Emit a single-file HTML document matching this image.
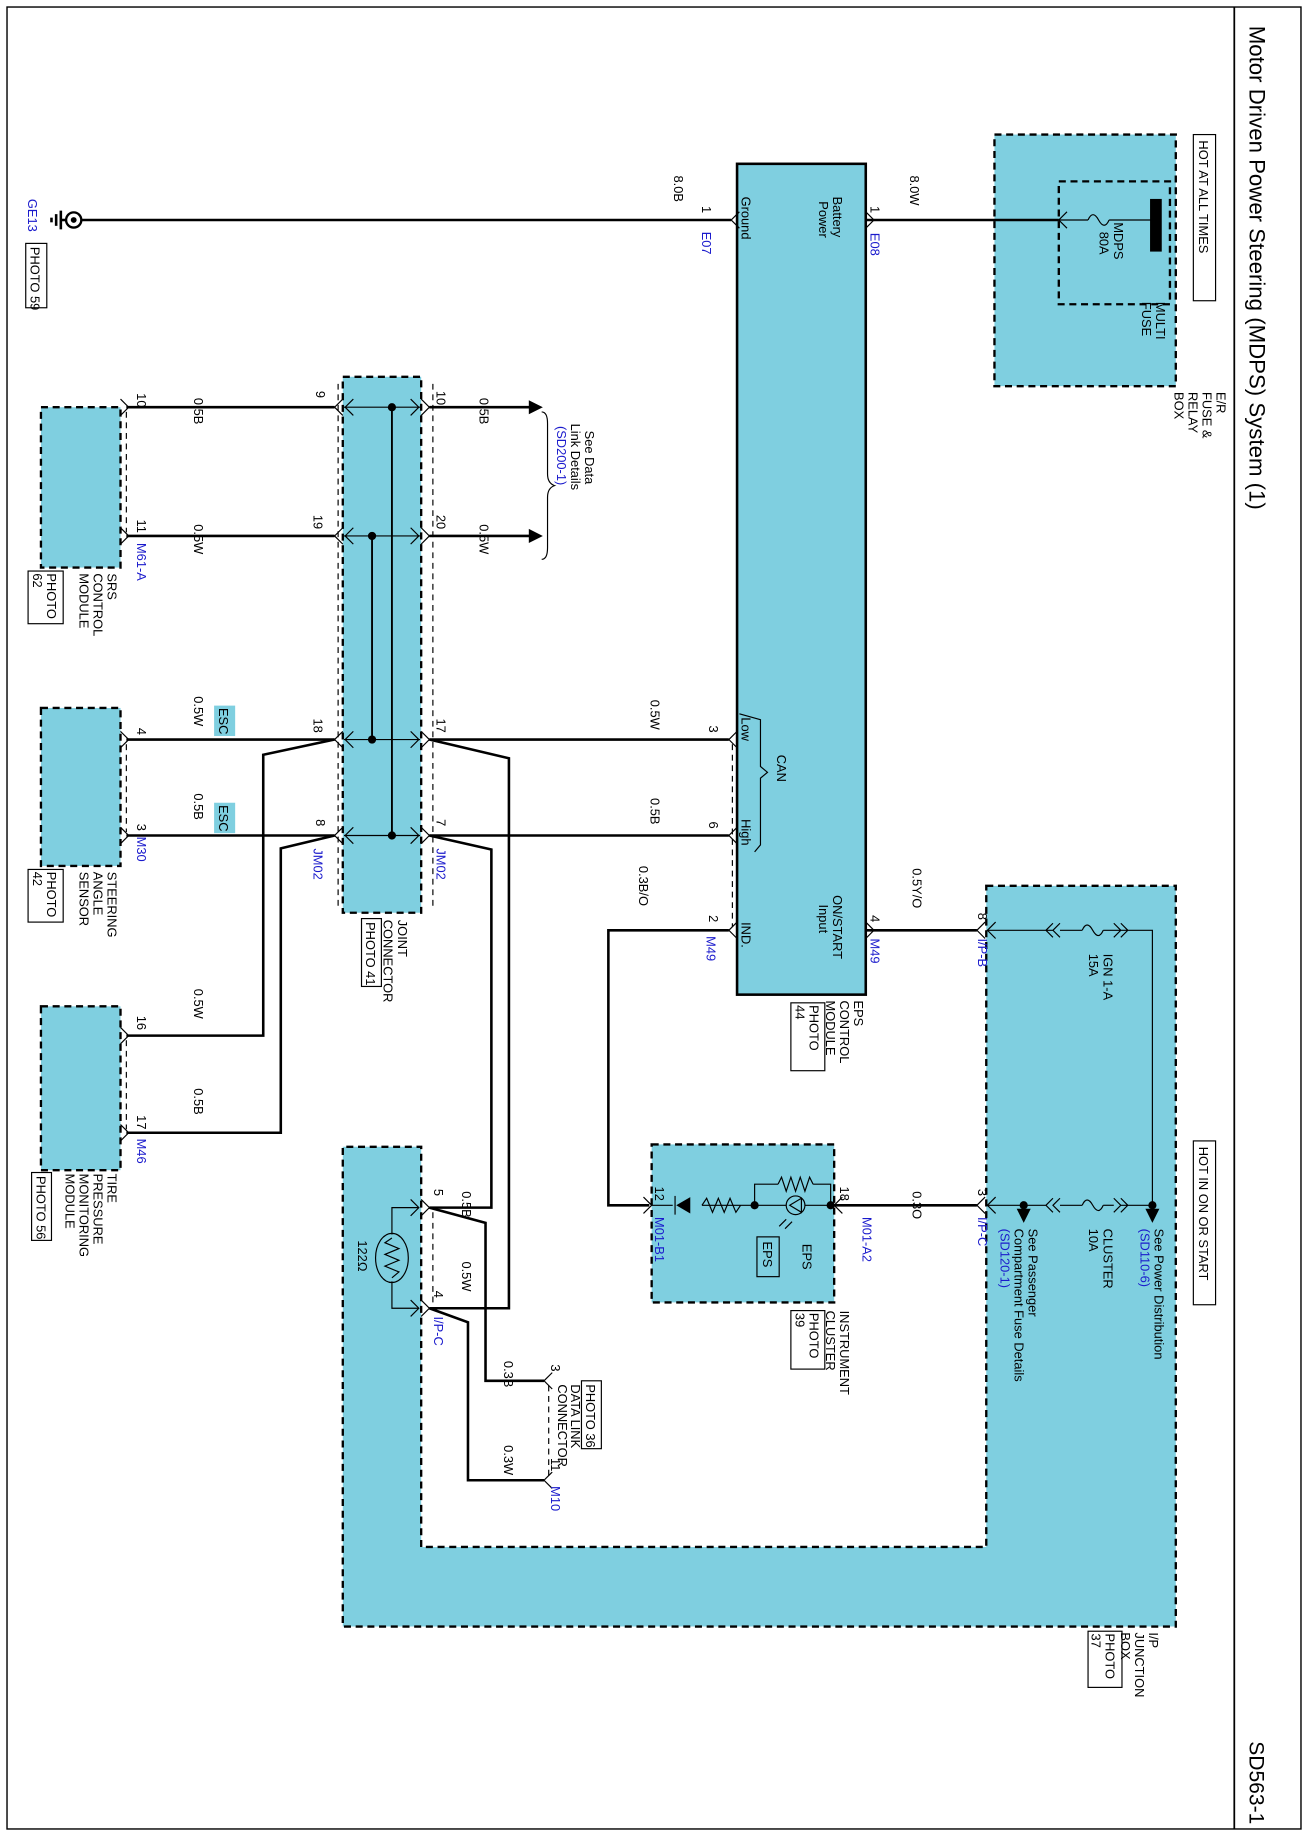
<!DOCTYPE html>
<html><head><meta charset="utf-8"><style>
html,body{margin:0;padding:0;background:#fff}
svg{display:block}
text{font-family:"Liberation Sans",sans-serif;font-size:11px;fill:#000}
.b{fill:#1a1acc}
.w{stroke:#000;stroke-width:2.2;fill:none}
.t{stroke:#000;stroke-width:1;fill:none}
.d{stroke:#000;stroke-width:1;fill:none;stroke-dasharray:5,4}
.box{fill:#7fcfe0;stroke:#000;stroke-width:2;stroke-dasharray:6,4}
</style></head><body>
<svg width="1308" height="1836" viewBox="0 0 1118 1569" preserveAspectRatio="none" xmlns="http://www.w3.org/2000/svg">
<rect x="6" y="6" width="1106" height="1557" fill="none" stroke="#000" stroke-width="1.2"/>
<line x1="1055" y1="6" x2="1055" y2="1563" stroke="#000" stroke-width="1.5"/>
<text style="font-size:19px" transform="translate(1068,22)rotate(90)">Motor Driven Power Steering (MDPS) System (1)</text>
<text style="font-size:18px" transform="translate(1068,1488)rotate(90)">SD563-1</text>

<!-- boxes -->
<rect x="630" y="140" width="110" height="710" fill="#7fcfe0" stroke="#000" stroke-width="2.2"/>
<rect class="box" x="850" y="115" width="155" height="215"/>
<rect x="905" y="155" width="95" height="105" fill="none" stroke="#000" stroke-width="2" stroke-dasharray="6,4"/>
<rect class="box" x="293" y="322" width="67" height="458"/>
<rect class="box" x="35" y="348" width="68" height="137"/>
<rect class="box" x="35" y="605" width="68" height="135"/>
<rect class="box" x="35" y="860" width="68" height="140"/>
<rect class="box" x="557" y="978" width="156" height="135"/>
<path class="box" d="M843,757 L1005,757 L1005,1390 L293,1390 L293,980 L360,980 L360,1322 L843,1322 Z"/>

<!-- ground -->
<line class="w" x1="70" y1="188" x2="625" y2="188"/>
<circle cx="63" cy="188" r="6.5" fill="#fff" stroke="#000" stroke-width="2"/>
<circle cx="63" cy="188" r="2.5" fill="#000"/>
<line class="w" x1="56" y1="188" x2="52" y2="188"/>
<line class="w" x1="52" y1="180" x2="52" y2="196"/>
<line class="w" x1="48" y1="183" x2="48" y2="193"/>
<line class="w" x1="44" y1="186" x2="44" y2="190"/>
<path class="t" d="M632,181 L625,188 L632,195"/>

<!-- battery -->
<line class="w" x1="740" y1="188" x2="905" y2="188"/>
<path class="t" d="M740,181 L747,188 L740,195"/>
<path class="t" d="M912,181 L905,188 L912,195"/>
<line class="t" x1="905" y1="188" x2="930" y2="188"/>
<path class="t" d="M930,188 q4,-9 9,0 t9,0"/>
<line class="t" x1="948" y1="188" x2="985" y2="188"/>
<rect x="983" y="170" width="10" height="45" fill="#000"/>

<!-- joint connector wires -->
<line class="w" x1="108" y1="348" x2="286" y2="348"/>
<line class="w" x1="108" y1="458" x2="286" y2="458"/>
<line class="w" x1="108" y1="632" x2="286" y2="632"/>
<line class="w" x1="108" y1="714" x2="286" y2="714"/>
<line class="w" x1="367" y1="348" x2="455" y2="348"/>
<line class="w" x1="367" y1="458" x2="455" y2="458"/>
<path d="M452,342 L464,348 L452,354Z M452,452 L464,458 L452,464Z" fill="#000"/>
<line class="w" x1="367" y1="632" x2="623" y2="632"/>
<line class="w" x1="367" y1="714" x2="623" y2="714"/>
<g class="t">
<line x1="294" y1="348" x2="359" y2="348"/><line x1="294" y1="458" x2="359" y2="458"/>
<line x1="294" y1="632" x2="359" y2="632"/><line x1="294" y1="714" x2="359" y2="714"/>
</g>
<line stroke="#000" stroke-width="1.6" x1="318" y1="458" x2="318" y2="632"/>
<line stroke="#000" stroke-width="1.6" x1="335" y1="348" x2="335" y2="714"/>
<circle cx="335" cy="348" r="3.5"/><circle cx="318" cy="458" r="3.5"/><circle cx="318" cy="632" r="3.5"/><circle cx="335" cy="714" r="3.5"/>
<g class="t">
<path d="M293,341 L286,348 L293,355 M302,341 L295,348 L302,355"/>
<path d="M293,451 L286,458 L293,465 M302,451 L295,458 L302,465"/>
<path d="M293,625 L286,632 L293,639 M302,625 L295,632 L302,639"/>
<path d="M293,707 L286,714 L293,721 M302,707 L295,714 L302,721"/>
<path d="M360,341 L367,348 L360,355 M351,341 L358,348 L351,355"/>
<path d="M360,451 L367,458 L360,465 M351,451 L358,458 L351,465"/>
<path d="M360,625 L367,632 L360,639 M351,625 L358,632 L351,639"/>
<path d="M360,707 L367,714 L360,721 M351,707 L358,714 L351,721"/>
<path d="M103,341 L110,348 L103,355 M103,451 L110,458 L103,465"/>
<path d="M103,625 L110,632 L103,639 M103,707 L110,714 L103,721"/>
<path d="M103,878 L110,885 L103,892 M103,961 L110,968 L103,975"/>
<path d="M630,625 L623,632 L630,639 M630,707 L623,714 L630,721 M630,788 L623,795 L630,802"/>
</g>
<line class="d" x1="289" y1="328" x2="289" y2="775"/>
<line class="d" x1="370" y1="328" x2="370" y2="775"/>
<line class="d" x1="108" y1="352" x2="108" y2="455"/>
<line class="d" x1="108" y1="636" x2="108" y2="711"/>
<line class="d" x1="108" y1="889" x2="108" y2="965"/>
<line class="d" x1="626" y1="636" x2="626" y2="792"/>
<!-- brace -->
<path class="t" d="M463,352 Q468,352 468,362 L468,405 Q468,413 474,415 Q468,417 468,425 L468,468 Q468,478 463,478"/>

<!-- TPMS wires -->
<path class="w" d="M108,885 L225,885 L225,645 L286,632"/>
<path class="w" d="M108,968 L240,968 L240,725 L286,714"/>
<!-- right side crossing wires -->
<path class="w" d="M367,632 L435,648 L435,1118 L367,1118"/>
<path class="w" d="M367,714 L420,726 L420,1032 L367,1032"/>
<path class="w" d="M367,1032 L415,1045 L415,1180 L465,1180"/>
<path class="w" d="M367,1118 L400,1130 L400,1265 L465,1265"/>
<g class="t">
<path d="M360,1025 L367,1032 L360,1039 M351,1025 L358,1032 L351,1039"/>
<path d="M360,1111 L367,1118 L360,1125 M351,1111 L358,1118 L351,1125"/>
<path d="M472,1173 L465,1180 L472,1187 M472,1258 L465,1265 L472,1272"/>
</g>
<line class="d" x1="370" y1="1036" x2="370" y2="1114"/>
<line class="d" x1="469" y1="1184" x2="469" y2="1261"/>
<!-- resistor 122 -->
<path class="t" d="M358,1032 L335,1032 L335,1055 M335,1095 L335,1118 L358,1118"/>
<ellipse cx="335" cy="1075" rx="14" ry="21" fill="none" stroke="#000" stroke-width="1"/>
<path class="t" d="M335,1058 L329,1062 L341,1067 L329,1072 L341,1077 L329,1082 L341,1087 L335,1092"/>

<!-- CAN bracket -->
<path class="t" d="M632,610 L650,615 L650,655 L656,660 L650,665 L650,722 L645,728"/>

<!-- IND / ON START -->
<path class="w" d="M623,795 L520,795 L520,1030 L555,1030"/>
<line class="w" x1="740" y1="795" x2="835" y2="795"/>
<path class="t" d="M740,788 L747,795 L740,802"/>
<path class="t" d="M842,788 L835,795 L842,802 M851,788 L844,795 L851,802"/>
<path class="t" d="M844,795 L900,795 M900,789 L894,795 L900,801 M906,789 L900,795 L906,801 M906,795 L925,795"/>
<path class="t" d="M925,795 q4,-9 9,0 t9,0"/>
<path class="t" d="M943,795 L958,795 M952,789 L958,795 L952,801 M958,789 L964,795 L958,801 M958,795 L985,795 L985,1035"/>
<path d="M979,1033 L985,1045 L991,1033Z M869,1033 L875,1045 L881,1033Z"/>
<path class="t" d="M985,1030 L958,1030 M952,1024 L958,1030 L952,1036 M958,1024 L964,1030 L958,1036"/>
<path class="t" d="M952,1030 L943,1030"/>
<path class="t" d="M925,1030 q4,-9 9,0 t9,0"/>
<path class="t" d="M925,1030 L906,1030 M900,1024 L894,1030 L900,1036 M906,1024 L900,1030 L906,1036 M894,1030 L844,1030 M875,1030 L875,1035"/>
<circle cx="985" cy="1030" r="3.5"/><circle cx="875" cy="1030" r="3.5"/>
<path class="t" d="M842,1023 L835,1030 L842,1037 M851,1023 L844,1030 L851,1037"/>
<line class="w" x1="713" y1="1030" x2="835" y2="1030"/>
<path class="t" d="M720,1023 L713,1030 L720,1037"/>
<path class="t" d="M550,1023 L557,1030 L550,1037"/>
<!-- cluster internals -->
<path class="t" d="M557,1030 L575,1030 M600,1030 L645,1030 L672,1030 M688,1030 L710,1030"/>
<path d="M590,1023 L590,1037 L578,1030Z"/><line class="t" x1="577" y1="1022" x2="577" y2="1038"/>
<path class="t" d="M600,1030 L604,1024 L609,1036 L614,1024 L619,1036 L624,1024 L629,1036 L633,1030"/>
<circle cx="645" cy="1030" r="3.5"/><circle cx="710" cy="1030" r="3.5"/>
<circle cx="680" cy="1030" r="8" fill="none" stroke="#000" stroke-width="1"/>
<path d="M685,1024 L685,1036 L675,1030Z" fill="none" stroke="#000" stroke-width="1"/>
<path class="t" d="M645,1030 L645,1012 L665,1012 M695,1012 L710,1012 L710,1030"/>
<path class="t" d="M665,1012 L668,1006 L672,1018 L676,1006 L680,1018 L684,1006 L688,1018 L692,1006 L695,1012"/>
<path class="t" d="M672,1042 L666,1048 M677,1044 L671,1050"/>

<!-- labels -->
<text transform="translate(576,150)rotate(90)">8.0B</text>
<text transform="translate(600,176)rotate(90)">1</text>
<text class="b" transform="translate(600,198)rotate(90)">E07</text>
<text transform="translate(778,150)rotate(90)">8.0W</text>
<text transform="translate(744,176)rotate(90)">1</text>
<text class="b" transform="translate(744,199)rotate(90)">E08</text>
<text transform="translate(634,168)rotate(90)">Ground</text>
<text transform="translate(712,168)rotate(90)">Battery</text>
<text transform="translate(700,172)rotate(90)">Power</text>
<text class="b" transform="translate(24,170)rotate(90)">GE13</text>
<rect x="22" y="208" width="18" height="55" fill="none" stroke="#000" stroke-width="1"/>
<text transform="translate(26,211)rotate(90)">PHOTO 59</text>
<text transform="translate(952,190)rotate(90)">MDPS</text>
<text transform="translate(940,198)rotate(90)">80A</text>
<text transform="translate(988,258)rotate(90)">MULTI</text>
<text transform="translate(976,258)rotate(90)">FUSE</text>
<rect x="1020" y="115" width="19" height="142" fill="none" stroke="#000" stroke-width="1"/>
<text transform="translate(1025,120)rotate(90)">HOT AT ALL TIMES</text>
<text transform="translate(1040,335)rotate(90)">E/R</text>
<text transform="translate(1028,335)rotate(90)">FUSE &amp;</text>
<text transform="translate(1016,335)rotate(90)">RELAY</text>
<text transform="translate(1004,335)rotate(90)">BOX</text>

<text transform="translate(270,334)rotate(90)">9</text>
<text transform="translate(268,440)rotate(90)">19</text>
<text transform="translate(373,334)rotate(90)">10</text>
<text transform="translate(373,440)rotate(90)">20</text>
<text transform="translate(410,340)rotate(90)">0.5B</text>
<text transform="translate(410,448)rotate(90)">0.5W</text>
<text transform="translate(268,614)rotate(90)">18</text>
<text transform="translate(373,614)rotate(90)">17</text>
<text transform="translate(270,700)rotate(90)">8</text>
<text transform="translate(373,700)rotate(90)">7</text>
<text class="b" transform="translate(268,725)rotate(90)">JM02</text>
<text class="b" transform="translate(373,725)rotate(90)">JM02</text>
<text transform="translate(340,786)rotate(90)">JOINT</text>
<text transform="translate(328,786)rotate(90)">CONNECTOR</text>
<rect x="309" y="785" width="17" height="58" fill="none" stroke="#000" stroke-width="1"/>
<text transform="translate(313,788)rotate(90)">PHOTO 41</text>
<text transform="translate(500,368)rotate(90)">See Data</text>
<text transform="translate(488,362)rotate(90)">Link Details</text>
<text class="b" transform="translate(476,364)rotate(90)">(SD200-1)</text>

<text transform="translate(117,336)rotate(90)">10</text>
<text transform="translate(117,444)rotate(90)">11</text>
<text class="b" transform="translate(117,464)rotate(90)">M61-A</text>
<text transform="translate(166,340)rotate(90)">0.5B</text>
<text transform="translate(166,448)rotate(90)">0.5W</text>
<text transform="translate(92,490)rotate(90)">SRS</text>
<text transform="translate(80,490)rotate(90)">CONTROL</text>
<text transform="translate(68,490)rotate(90)">MODULE</text>
<rect x="24" y="488" width="30" height="45" fill="none" stroke="#000" stroke-width="1"/>
<text transform="translate(40,490)rotate(90)">PHOTO</text>
<text transform="translate(28,490)rotate(90)">62</text>

<text transform="translate(117,622)rotate(90)">4</text>
<text transform="translate(117,704)rotate(90)">3</text>
<text class="b" transform="translate(117,715)rotate(90)">M30</text>
<text transform="translate(166,595)rotate(90)">0.5W</text>
<text transform="translate(166,678)rotate(90)">0.5B</text>
<rect x="183" y="603" width="18" height="26" fill="#7fcfe0"/>
<text transform="translate(187,605)rotate(90)">ESC</text>
<rect x="183" y="686" width="18" height="26" fill="#7fcfe0"/>
<text transform="translate(187,688)rotate(90)">ESC</text>
<text transform="translate(92,745)rotate(90)">STEERING</text>
<text transform="translate(80,745)rotate(90)">ANGLE</text>
<text transform="translate(68,745)rotate(90)">SENSOR</text>
<rect x="24" y="743" width="30" height="45" fill="none" stroke="#000" stroke-width="1"/>
<text transform="translate(40,745)rotate(90)">PHOTO</text>
<text transform="translate(28,745)rotate(90)">42</text>

<text transform="translate(117,868)rotate(90)">16</text>
<text transform="translate(117,953)rotate(90)">17</text>
<text class="b" transform="translate(117,973)rotate(90)">M46</text>
<text transform="translate(166,845)rotate(90)">0.5W</text>
<text transform="translate(166,930)rotate(90)">0.5B</text>
<text transform="translate(92,1003)rotate(90)">TIRE</text>
<text transform="translate(80,1003)rotate(90)">PRESSURE</text>
<text transform="translate(68,1003)rotate(90)">MONITORING</text>
<text transform="translate(56,1003)rotate(90)">MODULE</text>
<rect x="27" y="1002" width="17" height="58" fill="none" stroke="#000" stroke-width="1"/>
<text transform="translate(31,1005)rotate(90)">PHOTO 56</text>

<text transform="translate(556,598)rotate(90)">0.5W</text>
<text transform="translate(556,682)rotate(90)">0.5B</text>
<text transform="translate(606,620)rotate(90)">3</text>
<text transform="translate(606,702)rotate(90)">6</text>
<text transform="translate(546,740)rotate(90)">0.3B/O</text>
<text transform="translate(606,782)rotate(90)">2</text>
<text class="b" transform="translate(604,800)rotate(90)">M49</text>
<text transform="translate(744,782)rotate(90)">4</text>
<text class="b" transform="translate(744,802)rotate(90)">M49</text>
<text transform="translate(780,742)rotate(90)">0.5Y/O</text>
<text transform="translate(836,780)rotate(90)">8</text>
<text class="b" transform="translate(836,802)rotate(90)">I/P-B</text>
<text transform="translate(634,613)rotate(90)">Low</text>
<text transform="translate(634,700)rotate(90)">High</text>
<text transform="translate(664,645)rotate(90)">CAN</text>
<text transform="translate(634,788)rotate(90)">IND.</text>
<text transform="translate(712,765)rotate(90)">ON/START</text>
<text transform="translate(700,773)rotate(90)">Input</text>
<text transform="translate(730,855)rotate(90)">EPS</text>
<text transform="translate(718,855)rotate(90)">CONTROL</text>
<text transform="translate(706,855)rotate(90)">MODULE</text>
<rect x="676" y="857" width="29" height="58" fill="none" stroke="#000" stroke-width="1"/>
<text transform="translate(692,859)rotate(90)">PHOTO</text>
<text transform="translate(680,859)rotate(90)">44</text>

<text transform="translate(943,815)rotate(90)">IGN 1-A</text>
<text transform="translate(931,815)rotate(90)">15A</text>
<text transform="translate(943,1050)rotate(90)">CLUSTER</text>
<text transform="translate(931,1050)rotate(90)">10A</text>
<text transform="translate(836,1016)rotate(90)">3</text>
<text class="b" transform="translate(836,1040)rotate(90)">I/P-C</text>
<text transform="translate(780,1018)rotate(90)">0.3O</text>
<text transform="translate(718,1014)rotate(90)">18</text>
<text class="b" transform="translate(737,1040)rotate(90)">M01-A2</text>
<text transform="translate(560,1014)rotate(90)">12</text>
<text class="b" transform="translate(560,1040)rotate(90)">M01-B1</text>
<text transform="translate(987,1050)rotate(90)">See Power Distribution</text>
<text class="b" transform="translate(975,1050)rotate(90)">(SD110-6)</text>
<text transform="translate(879,1050)rotate(90)">See Passenger</text>
<text transform="translate(867,1050)rotate(90)">Compartment Fuse Details</text>
<text class="b" transform="translate(855,1050)rotate(90)">(SD120-1)</text>
<rect x="1020" y="975" width="19" height="140" fill="none" stroke="#000" stroke-width="1"/>
<text transform="translate(1025,980)rotate(90)">HOT IN ON OR START</text>
<rect x="647" y="1057" width="19" height="34" fill="none" stroke="#000" stroke-width="1"/>
<text transform="translate(652,1061)rotate(90)">EPS</text>
<text transform="translate(686,1063)rotate(90)">EPS</text>
<text transform="translate(718,1120)rotate(90)">INSTRUMENT</text>
<text transform="translate(706,1120)rotate(90)">CLUSTER</text>
<rect x="676" y="1120" width="29" height="50" fill="none" stroke="#000" stroke-width="1"/>
<text transform="translate(692,1122)rotate(90)">PHOTO</text>
<text transform="translate(680,1122)rotate(90)">39</text>

<text transform="translate(371,1016)rotate(90)">5</text>
<text transform="translate(395,1018)rotate(90)">0.5B</text>
<text transform="translate(371,1103)rotate(90)">4</text>
<text transform="translate(395,1078)rotate(90)">0.5W</text>
<text class="b" transform="translate(371,1125)rotate(90)">I/P-C</text>
<text transform="translate(306,1060)rotate(90)">122Ω</text>
<text transform="translate(431,1163)rotate(90)">0.3B</text>
<text transform="translate(431,1235)rotate(90)">0.3W</text>
<text transform="translate(471,1166)rotate(90)">3</text>
<text transform="translate(471,1246)rotate(90)">11</text>
<text class="b" transform="translate(471,1270)rotate(90)">M10</text>
<rect x="497" y="1180" width="17" height="58" fill="none" stroke="#000" stroke-width="1"/>
<text transform="translate(501,1183)rotate(90)">PHOTO 36</text>
<text transform="translate(488,1183)rotate(90)">DATA LINK</text>
<text transform="translate(477,1183)rotate(90)">CONNECTOR</text>
<text transform="translate(982,1395)rotate(90)">I/P</text>
<text transform="translate(970,1395)rotate(90)">JUNCTION</text>
<text transform="translate(958,1395)rotate(90)">BOX</text>
<rect x="930" y="1394" width="29" height="48" fill="none" stroke="#000" stroke-width="1"/>
<text transform="translate(945,1396)rotate(90)">PHOTO</text>
<text transform="translate(933,1396)rotate(90)">37</text>
</svg>
</body></html>
